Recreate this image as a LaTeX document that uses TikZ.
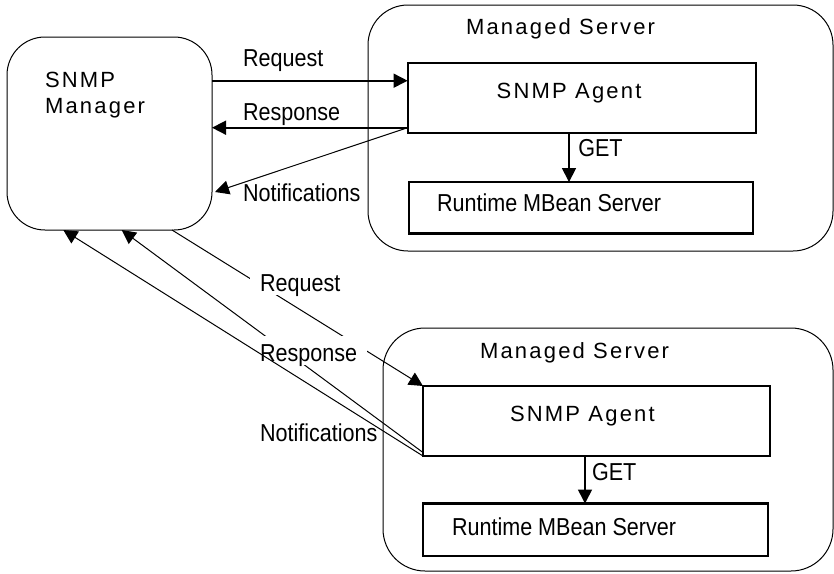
\documentclass[tikz,border=0pt]{standalone}
\usepackage{fontspec}
\setmainfont{Liberation Sans}
\newfontfamily\narrowfont[FakeStretch=0.88]{Liberation Sans}
\newfontfamily\widefont[LetterSpace=10]{Liberation Sans}
\usetikzlibrary{arrows.meta}
\tikzset{
  thinbox/.style={draw, rectangle, inner sep=0pt, outer sep=0pt, line width=1pt},
  boldbox/.style={draw, rectangle, inner sep=0pt, outer sep=0pt, line width=2.2pt},
  nlbl/.style={inner sep=0pt, outer sep=0pt, font=\narrowfont\fontsize{24.5}{29}\selectfont, anchor=base west},
  wlbl/.style={inner sep=0pt, outer sep=0pt, font=\widefont\fontsize{22}{26}\selectfont, anchor=base west},
  covered/.style={fill=white, inner xsep=10pt, inner ysep=0pt, text height=26pt, text depth=3pt},
  arr/.style={-{Triangle[length=14pt,width=14pt]}},
  thick1/.style={line width=1.6pt},
  thin1/.style={line width=1pt},
}
\begin{document}
\begin{tikzpicture}[x=1pt,y=-1pt]
\useasboundingbox (0,0) rectangle (834,573);

% boxes
\node[thinbox, rounded corners=38pt, minimum width=205pt, minimum height=193pt] (mgr) at (109.5,133.5) {};
\node[thinbox, rounded corners=40pt, minimum width=465pt, minimum height=246pt] (srvA) at (600.5,128) {};
\node[boldbox, minimum width=348pt, minimum height=70pt] (agentA) at (581.6,97.7) {};
\node[boldbox, minimum width=344pt, minimum height=51.5pt] (rtA) at (581,207.8) {};
\node[thinbox, rounded corners=42pt, minimum width=450pt, minimum height=243pt] (srvB) at (608,449.5) {};
\node[boldbox, minimum width=347pt, minimum height=70pt] (agentB) at (596.5,421) {};
\node[boldbox, minimum width=345pt, minimum height=52.5pt] (rtB) at (595.5,529.75) {};

% box texts
\node[wlbl] (mgrT1) at (45,87.3) {SNMP};
\node[wlbl] (mgrT2) at (45,113.7) {Manager};
\node[wlbl] (srvAT) at (466,34) {Managed Server};
\node[wlbl] (agentAT) at (496.7,98.3) {SNMP Agent};
\node[nlbl] (rtAT) at (437,211.7) {Runtime MBean Server};
\node[wlbl] (srvBT) at (480,358.3) {Managed Server};
\node[wlbl] (agentBT) at (510,421.7) {SNMP Agent};
\node[nlbl] (rtBT) at (452,535) {Runtime MBean Server};

% top connectors
\draw[arr, thick1] (mgr.east |- 0,80.7) -- (agentA.west |- 0,80.7);
\draw[arr, thick1] (agentA.west |- 0,127.7) -- (mgr.east |- 0,127.7);
\draw[arr, thin1] (agentA.west |- 0,127.7) -- ([xshift=3pt]mgr.east |- 0,192);
\draw[arr, thick1] (agentA.south -| 569,0) -- (rtA.north -| 569,0);
\node[nlbl] (reqA) at (243,66.7) {Request};
\node[nlbl] (respA) at (243,120.7) {Response};
\node[nlbl] (notA) at (243,201.7) {Notifications};
\node[nlbl] (getA) at (578.3,156.7) {GET};

% bottom connectors
\draw[arr, thin1] (mgr.south -| 172,0) -- (agentB.north west);
\draw[arr, thin1] (agentB.west |- 0,452.5) -- (mgr.south -| 121.7,0);
\draw[arr, thick1] (agentB.south -| 585,0) -- (rtB.north -| 585,0);
\node[nlbl, covered] (reqB) at (250,291.7) {Request};
\node[nlbl, covered] (respB) at (250,361.7) {Response};
\node[nlbl] (notB) at (260,441.7) {Notifications};
\node[nlbl] (getB) at (592,480) {GET};
\draw[arr, thin1] (agentB.south west) -- (mgr.south -| 63.3,0);
\end{tikzpicture}
\end{document}
